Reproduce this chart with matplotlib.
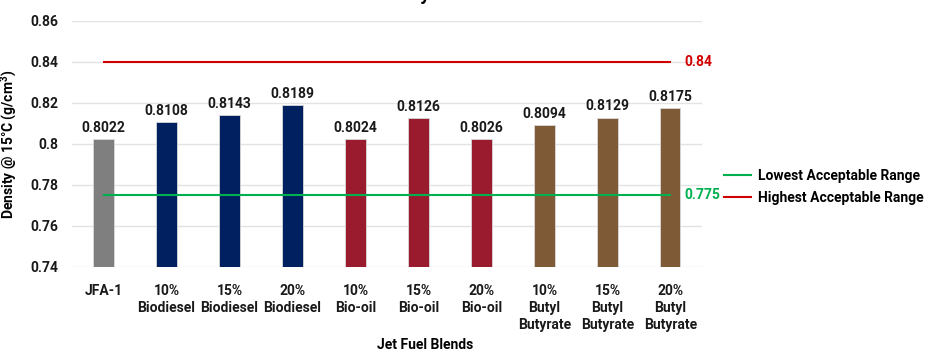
import matplotlib.pyplot as plt
from matplotlib.lines import Line2D

# Jet fuel blend densities
blends = ["JFA-1", "10%\nBiodiesel", "15%\nBiodiesel", "20%\nBiodiesel",
          "10%\nBio-oil", "15%\nBio-oil", "20%\nBio-oil",
          "10%\nButyl\nButyrate", "15%\nButyl\nButyrate", "20%\nButyl\nButyrate"]
density = [0.8022, 0.8108, 0.8143, 0.8189, 0.8024, 0.8126, 0.8026,
           0.8094, 0.8129, 0.8175]
bar_colors = ["#7f7f7f"] + ["#002060"] * 3 + ["#9b1b2e"] * 3 + ["#7f5a36"] * 3

low_limit = 0.775
high_limit = 0.84
y_ticks = [0.74, 0.76, 0.78, 0.8, 0.82, 0.84, 0.86]
y_tick_labels = ["0.74", "0.76", "0.78", "0.8", "0.82", "0.84", "0.86"]

plt.rcParams['font.family'] = ['Roboto', 'DejaVu Sans']
plt.rcParams['font.weight'] = 'bold'
FS = 10

fig = plt.figure(figsize=(9.26, 3.54), dpi=100)
ax = fig.add_axes([0.0778, 0.2458, 0.6802, 0.6949])

x = list(range(len(blends)))
ax.bar(x, density, width=0.32, color=bar_colors, edgecolor="#d9d9d9",
       linewidth=0.6, zorder=2)
for xi, v in zip(x, density):
    ax.text(xi, v + 0.002, f"{v:.4f}", ha="center", va="bottom",
            fontsize=FS, fontweight="bold", color="#1a1a1a", zorder=4)

# acceptable range lines
ax.plot([x[0], x[-1]], [high_limit, high_limit], color="#d00000", lw=1.5, zorder=3)
ax.plot([x[0], x[-1]], [low_limit, low_limit], color="#00b050", lw=1.5, zorder=3)
ax.text(x[-1] + 0.22, high_limit, f"{high_limit:g}", color="#d00000", fontsize=FS,
        fontweight="bold", va="center", ha="left")
ax.text(x[-1] + 0.22, low_limit, f"{low_limit:g}", color="#00b050", fontsize=FS,
        fontweight="bold", va="center", ha="left")

ax.set_xlim(-0.5, len(blends) - 0.5)
ax.set_ylim(0.74, 0.86)
ax.set_yticks(y_ticks)
ax.set_yticklabels(y_tick_labels)
ax.set_xticks(x)
ax.set_xticklabels(blends, linespacing=1.3)
ax.tick_params(axis="both", length=0, labelsize=FS, colors="#1a1a1a")
ax.tick_params(axis="x", pad=12)
ax.tick_params(axis="y", pad=10)
ax.grid(axis="y", color="#e3e3e3", lw=1, zorder=0)
for s in ax.spines.values():
    s.set_visible(False)

ax.set_ylabel("Density @ 15°C (g/cm$^\\mathregular{3}$)", fontsize=FS,
              fontweight="bold", labelpad=8)
ax.set_xlabel("Jet Fuel Blends", fontsize=FS, fontweight="bold")
ax.xaxis.set_label_coords(0.56, -0.29)

handles = [Line2D([], [], color="#00b050", lw=1.5),
           Line2D([], [], color="#d00000", lw=1.5)]
fig.legend(handles, ["Lowest Acceptable Range", "Highest Acceptable Range"],
           loc="center left", bbox_to_anchor=(0.768, 0.472), frameon=False,
           fontsize=FS, handlelength=2.0, handletextpad=0.5, labelspacing=0.6)

# title sits mostly above the top edge
fig.suptitle("Density", y=1.04, fontsize=14, fontweight="bold", x=0.43)

fig.savefig("out.png", dpi=100)
